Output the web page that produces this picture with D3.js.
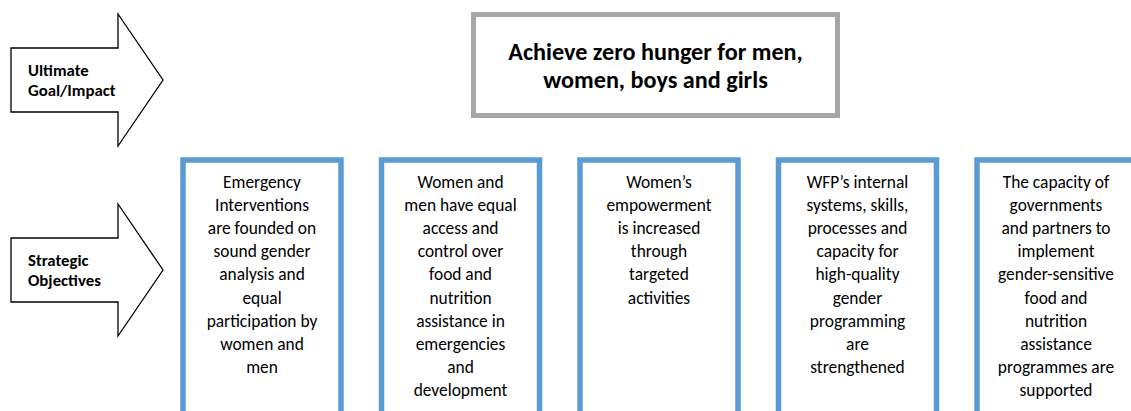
<!DOCTYPE html>
<html><head><meta charset="utf-8">
<script src="https://cdn.jsdelivr.net/npm/d3@7"></script>
<style>html,body{margin:0;padding:0;background:#fff;overflow:hidden}</style>
</head><body>
<svg id="c" width="1131" height="411"></svg>
<script>
const arrowLabels = [["Ultimate", "Goal/Impact"], ["Strategic", "Objectives"]];
const goalLines = ["Achieve zero hunger for men,", "women, boys and girls"];
const objectives = [
  ["Emergency", "Interventions", "are founded on", "sound gender", "analysis and", "equal", "participation by", "women and", "men"],
  ["Women and", "men have equal", "access and", "control over", "food and", "nutrition", "assistance in", "emergencies", "and", "development"],
  ["Women\u2019s", "empowerment", "is increased", "through", "targeted", "activities"],
  ["WFP\u2019s internal", "systems, skills,", "processes and", "capacity for", "high-quality", "gender", "programming", "are", "strengthened"],
  ["The capacity of", "governments", "and partners to", "implement", "gender-sensitive", "food and", "nutrition", "assistance", "programmes are", "supported"]
];

const FONT = "Carlito, Calibri, Lato, 'Open Sans', sans-serif";
const svg = d3.select("#c");

// arrows
const arrowY = d3.scalePoint().domain([0, 1]).range([80, 270]);
const arrowPath = d3.line();
const ag = svg.selectAll("g.arrow").data(arrowLabels).join("g").attr("class", "arrow")
  .attr("transform", (d, i) => `translate(0,${arrowY(i)})`);
ag.append("path")
  .attr("d", arrowPath([[11, -32], [118, -32], [118, -66], [163, 0], [118, 66], [118, 32], [11, 32]]) + "Z")
  .attr("fill", "#fff").attr("stroke", "#000").attr("stroke-width", 1.3);
ag.selectAll("text").data(d => d).join("text")
  .attr("x", 28).attr("y", (d, j) => -4 + j * 19.5)
  .attr("font-family", FONT).attr("font-weight", "bold").attr("font-size", 16.8)
  .attr("fill", "#000").text(d => d);

// goal box
svg.append("rect").attr("x", 473.5).attr("y", 14.5).attr("width", 364).attr("height", 101)
  .attr("fill", "#fff").attr("stroke", "#a6a6a6").attr("stroke-width", 5);
svg.selectAll("text.goal").data(goalLines).join("text").attr("class", "goal")
  .attr("x", 655.5).attr("y", (d, i) => 60 + i * 28)
  .attr("text-anchor", "middle").attr("font-family", FONT).attr("font-weight", "bold")
  .attr("font-size", 24.2).attr("fill", "#000").text(d => d);

// objective boxes
const x = d3.scaleLinear().domain([0, 4]).range([262, 1056]);
const boxW = 158;
const og = svg.selectAll("g.obj").data(objectives).join("g").attr("class", "obj")
  .attr("transform", (d, i) => `translate(${x(i)},0)`);
og.append("rect").attr("x", -boxW / 2).attr("y", 160).attr("width", boxW).attr("height", 300)
  .attr("fill", "#fff").attr("stroke", "#5b9bd5").attr("stroke-width", 5.5);
og.selectAll("text").data(d => d).join("text")
  .attr("x", 0).attr("y", (d, j) => 188 + j * 23.1)
  .attr("text-anchor", "middle").attr("font-family", FONT).attr("font-size", 17.4)
  .attr("fill", "#000").text(d => d);
</script>
</body></html>
